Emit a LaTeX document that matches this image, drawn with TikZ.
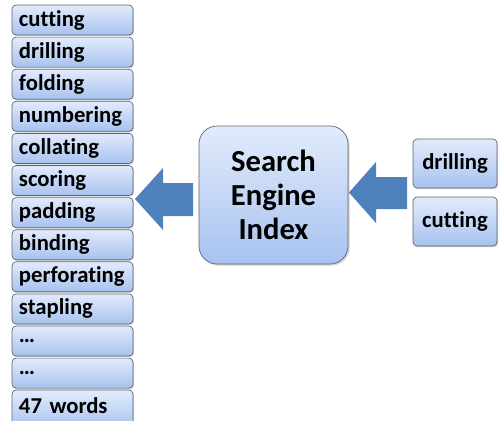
\documentclass[tikz,border=0pt]{standalone}
\usepackage{fontspec}
\setmainfont{Carlito}[Ligatures=NoCommon]
\usetikzlibrary{shadows}
\definecolor{boxtop}{HTML}{E2EBFB}
\definecolor{boxbot}{HTML}{A7C2F0}
\definecolor{boxline}{HTML}{5E6670}
\definecolor{arrowblue}{HTML}{4F81BD}
\tikzset{
  wordbox/.style={draw=boxline, line width=0.7pt, rounded corners=4pt,
    top color=boxtop, bottom color=boxbot,
    drop shadow={shadow xshift=1pt, shadow yshift=-1.2pt, opacity=0.35},
    minimum width=121pt, minimum height=30pt, inner sep=0pt,
    font=\bfseries\fontsize{22.7}{25}\selectfont, text=black},
  leftbox/.style={wordbox, text width=107pt, align=left},
  rightbox/.style={wordbox, minimum width=84pt, minimum height=49pt, align=center},
  bigbox/.style={draw=boxline, line width=0.7pt, rounded corners=18pt,
    top color=boxtop, bottom color=boxbot,
    drop shadow={shadow xshift=1.5pt, shadow yshift=-1.5pt, opacity=0.35},
    minimum width=149pt, minimum height=138pt, align=center,
    font=\bfseries\fontsize{30.6}{34}\selectfont, text=black},
  blockarrow/.style={fill=arrowblue, draw=none}
}
\begin{document}
\begin{tikzpicture}[x=1pt, y=-1pt]
\useasboundingbox (0,0) rectangle (499,421);
\foreach \w [count=\i from 0] in {cutting,drilling,folding,numbering,collating,scoring,padding,binding,perforating,stapling,\ldots,\ldots}{
  \node[leftbox] (w\i) at (72.5, {20+32.1*\i}) {\w};
}
\node[leftbox, minimum height=40pt, text depth=9pt] (w12) at (72.5, 410) {47 words};
\node[bigbox] (sei) at (273.5,195) {Search\\Engine\\Index};
\node[rightbox] (rd) at (455,163.5) {drilling};
\node[rightbox] (rc) at (455,221.5) {cutting};
% left block arrow
\fill[blockarrow] (193,183) -- (163,183) -- (163,168) -- (135,199) -- (163,230) -- (163,216) -- (193,216) -- cycle;
% right block arrow
\fill[blockarrow] (407,177) -- (376,177) -- (376,162) -- (349,192.5) -- (376,223) -- (376,209) -- (407,209) -- cycle;
\end{tikzpicture}
\end{document}
